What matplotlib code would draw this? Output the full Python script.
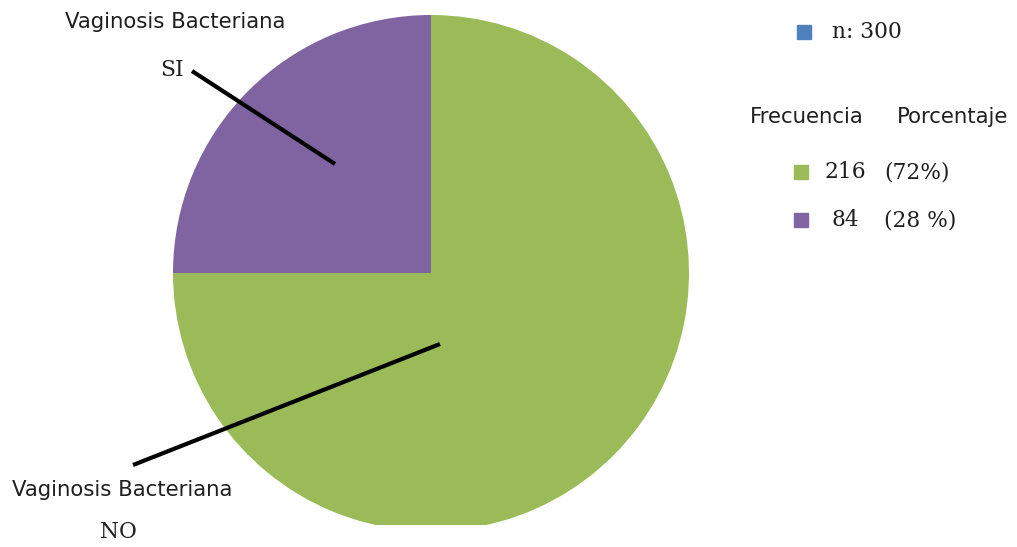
import matplotlib
matplotlib.use('Agg')
import matplotlib.pyplot as plt

# data
categorias = ['Vaginosis Bacteriana NO', 'Vaginosis Bacteriana SI']
sector = [75, 25]           # share of the circle as drawn
frecuencia = [216, 84]
porcentaje = ['(72%)', '(28 %)']
n_total = 300

verde = '#9BBB59'
morado = '#8064A2'
azul = '#4F81BD'

W, H = 1017, 547
fig = plt.figure(figsize=(W / 100, H / 100), dpi=100)

# axes in pixel units; bottom strip left out so the pie gets cut like the original
bottom = 22
ax = fig.add_axes([0, bottom / H, 1, (H - bottom) / H])
wedges, _ = ax.pie(sector, colors=[verde, morado], startangle=180,
                   counterclock=True, center=(431, H - 273), radius=258,
                   frame=True, wedgeprops={'linewidth': 0})
for w in wedges:
    w.set_clip_on(True)
ax.set_xlim(0, W)
ax.set_ylim(bottom, H)
ax.set_aspect('equal')
ax.axis('off')

# leader lines
ax.plot([192, 335], [H - 71, H - 164], color='black', lw=3, solid_capstyle='butt')
ax.plot([133, 440], [H - 465, H - 344], color='black', lw=3, solid_capstyle='butt')

sans = ['DejaVu Sans']
serif = ['DejaVu Serif']
oscuro = '#1f1f1f'
fs_sans = 15.3
fs_serif = 15.7


def px(x, y):
    return x / W, 1 - y / H


fig.text(*px(175, 22), 'Vaginosis Bacteriana', family=sans, fontsize=fs_sans,
         color=oscuro, ha='center', va='center')
fig.text(*px(172, 70), 'SI', family=serif, fontsize=fs_serif, color=oscuro,
         ha='center', va='center')
fig.text(*px(122, 490), 'Vaginosis Bacteriana', family=sans, fontsize=fs_sans,
         color=oscuro, ha='center', va='center')
fig.text(*px(118, 532), 'NO', family=serif, fontsize=fs_serif, color=oscuro,
         ha='center', va='center')

# legend block
cuadro = 14


def marca(x, y, color):
    fig.patches.append(plt.Rectangle(px(x - cuadro / 2, y + cuadro / 2),
                                     cuadro / W, cuadro / H, color=color,
                                     transform=fig.transFigure, figure=fig))


marca(804, 32, azul)
fig.text(*px(832, 32), 'n: ' + str(n_total), family=serif, fontsize=fs_serif,
         color=oscuro, ha='left', va='center')

fig.text(*px(750, 117), 'Frecuencia', family=sans, fontsize=fs_sans,
         color=oscuro, ha='left', va='center')
fig.text(*px(897, 117), 'Porcentaje', family=sans, fontsize=fs_sans,
         color=oscuro, ha='left', va='center')

filas_y = [172, 220]
colores = [verde, morado]
for i in range(len(frecuencia)):
    y = filas_y[i]
    marca(801, y, colores[i])
    fig.text(*px(845, y), str(frecuencia[i]), family=serif, fontsize=fs_serif,
             color=oscuro, ha='center', va='center')
    fig.text(*px(884, y), porcentaje[i], family=serif, fontsize=fs_serif,
             color=oscuro, ha='left', va='center')

fig.savefig('out.png', dpi=100)
